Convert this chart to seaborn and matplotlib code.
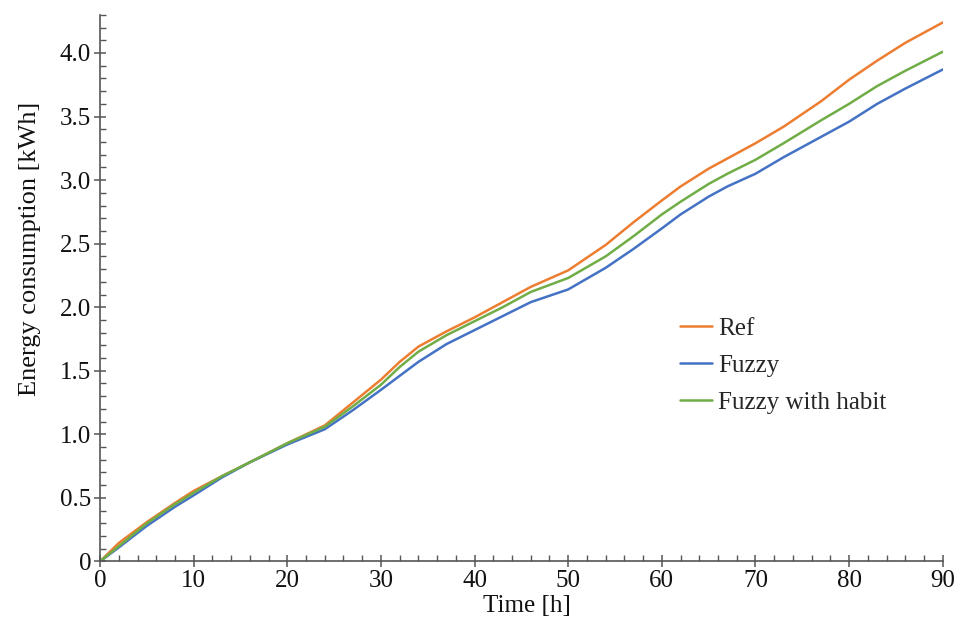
import matplotlib
matplotlib.use("Agg")
import matplotlib.pyplot as plt
import seaborn as sns
import pandas as pd
from matplotlib.ticker import MultipleLocator, FuncFormatter

time_h = [0, 2, 5, 8, 10, 13, 16, 20, 24, 27, 30, 32, 34, 37, 40, 43, 46, 50,
          54, 57, 60, 62, 65, 67, 70, 73, 77, 80, 83, 86, 90]
ref = [0, 0.145, 0.31, 0.46, 0.555, 0.67, 0.78, 0.93, 1.07, 1.25, 1.43, 1.57, 1.69,
       1.81, 1.92, 2.04, 2.16, 2.29, 2.49, 2.67, 2.84, 2.95, 3.09, 3.17, 3.29, 3.42,
       3.62, 3.79, 3.94, 4.08, 4.24]
fuzzy = [0, 0.11, 0.28, 0.43, 0.52, 0.66, 0.78, 0.92, 1.04, 1.19, 1.35, 1.46, 1.57,
         1.71, 1.82, 1.93, 2.04, 2.14, 2.31, 2.46, 2.62, 2.73, 2.87, 2.95, 3.05, 3.18,
         3.34, 3.46, 3.60, 3.72, 3.87]
fuzzy_habit = [0, 0.12, 0.30, 0.45, 0.54, 0.67, 0.78, 0.93, 1.06, 1.22, 1.39, 1.53,
               1.65, 1.78, 1.89, 2.00, 2.12, 2.23, 2.40, 2.56, 2.73, 2.83, 2.97, 3.05,
               3.16, 3.29, 3.47, 3.60, 3.74, 3.86, 4.01]
series_names = ["Ref", "Fuzzy", "Fuzzy with habit"]
colors = ["#ED7D31", "#4472C4", "#70AD47"]

rows = []
for name, vals in zip(series_names, [ref, fuzzy, fuzzy_habit]):
    for t, v in zip(time_h, vals):
        rows.append({"Time": t, "Energy": v, "Series": name})
df = pd.DataFrame(rows)

sns.set_style("ticks")
plt.rcParams["font.family"] = ["Liberation Serif", "DejaVu Serif"]

fig = plt.figure(figsize=(9.62, 6.19), dpi=100)
ax = fig.add_axes([0.104, 0.093, 0.876, 0.883])

sns.lineplot(data=df, x="Time", y="Energy", hue="Series", hue_order=series_names,
             palette=colors, linewidth=1.8, ax=ax)

ax.set_xlim(0, 90)
ax.set_ylim(0, 4.3)
ax.xaxis.set_major_locator(MultipleLocator(10))
ax.xaxis.set_minor_locator(MultipleLocator(2))
ax.yaxis.set_major_locator(MultipleLocator(0.5))
ax.yaxis.set_minor_locator(MultipleLocator(0.1))
ax.yaxis.set_major_formatter(FuncFormatter(lambda v, p: "0" if abs(v) < 1e-9 else f"{v:.1f}"))
ax.xaxis.set_major_formatter(FuncFormatter(lambda v, p: f"{v:.0f}"))

for s in ["top", "right"]:
    ax.spines[s].set_visible(False)
for s in ["left", "bottom"]:
    ax.spines[s].set_color("#555555")
    ax.spines[s].set_linewidth(1.2)

ax.tick_params(which="major", direction="inout", length=9, width=1.1, color="#555555",
               labelsize=18, pad=2, labelcolor="#111111")
ax.tick_params(which="minor", direction="in", length=4, width=1.0, color="#555555")

ax.set_xlabel("Time [h]", fontsize=18, color="#111111", va="center")
ax.xaxis.set_label_coords(0.507, -0.082)
ax.set_ylabel("Energy consumption [kWh]", fontsize=19, color="#111111", va="center")
ax.yaxis.set_label_coords(-0.083, 0.571)

leg = ax.legend(loc="upper left", bbox_to_anchor=(0.688, 0.447), frameon=False,
                fontsize=18, handlelength=1.3, handletextpad=0.24, labelspacing=0.59,
                borderpad=0, borderaxespad=0)

fig.savefig("out.png", dpi=100)
